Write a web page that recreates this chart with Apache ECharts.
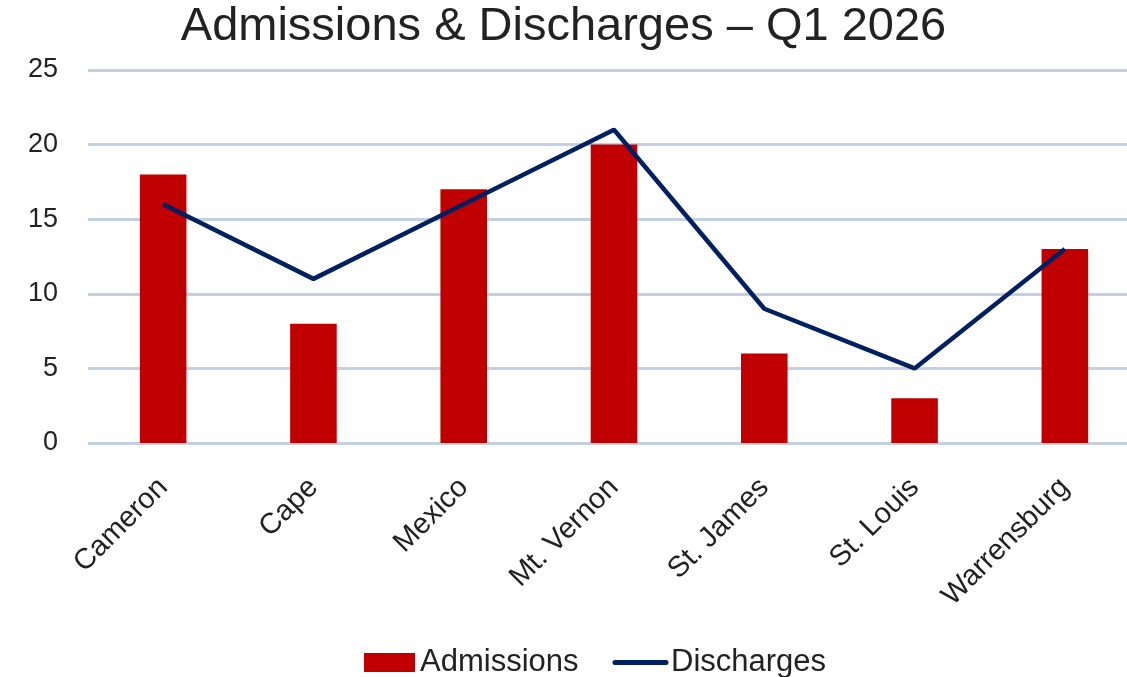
<!DOCTYPE html>
<html>
<head>
<meta charset="utf-8">
<title>Admissions & Discharges</title>
<script src="https://cdn.jsdelivr.net/npm/echarts@6/dist/echarts.min.js"></script>
<style>
  html, body { margin: 0; padding: 0; background: #fff; }
  #main { width: 1127px; height: 677px; }
</style>
</head>
<body>
<div id="main"></div>
<script>
// data
var sites = ['Cameron', 'Cape', 'Mexico', 'Mt. Vernon', 'St. James', 'St. Louis', 'Warrensburg'];
var admissions = [18, 8, 17, 20, 6, 3, 13];
var discharges = [16, 11, 16, 21, 9, 5, 13];

var font = '"Liberation Sans", "Noto Sans", sans-serif';
var chart = echarts.init(document.getElementById('main'));

chart.setOption({
    animation: false,
    title: {
        text: 'Admissions & Discharges \u2013 Q1 2026',
        left: 'center',
        top: -1,
        textStyle: { fontFamily: font, fontSize: 47, fontWeight: 'normal', color: '#222' }
    },
    legend: {
        bottom: -6,
        left: 359,
        itemWidth: 51,
        itemHeight: 19,
        itemGap: 34,
        textStyle: { fontFamily: font, fontSize: 31, color: '#222' },
        data: [
            { name: 'Admissions', icon: 'rect' },
            { name: 'Discharges', itemStyle: { opacity: 0 }, lineStyle: { width: 5, cap: 'round' } }
        ]
    },
    // plot area runs past the right edge in the reference
    grid: { left: 88, width: 1052, top: 70, bottom: 234, outerBoundsMode: 'none' },
    xAxis: {
        type: 'category',
        data: sites,
        axisLine: { show: false },
        axisTick: { show: false },
        axisLabel: {
            rotate: 45,
            margin: 40,
            fontFamily: font,
            fontSize: 29,
            color: '#222'
        }
    },
    yAxis: {
        type: 'value',
        min: 0,
        max: 25,
        interval: 5,
        axisLine: { show: false },
        axisTick: { show: false },
        axisLabel: { margin: 30, fontFamily: font, fontSize: 27, color: '#222' },
        splitLine: { lineStyle: { color: '#c3d0e4', width: 3 } }
    },
    series: [
        {
            name: 'Admissions',
            type: 'bar',
            data: admissions,
            barWidth: '31%',
            itemStyle: { color: '#c00000' }
        },
        {
            name: 'Discharges',
            type: 'line',
            data: discharges,
            symbol: 'none',
            lineStyle: { color: '#002060', width: 4.5 },
            itemStyle: { color: '#002060' }
        }
    ]
});
</script>
</body>
</html>
